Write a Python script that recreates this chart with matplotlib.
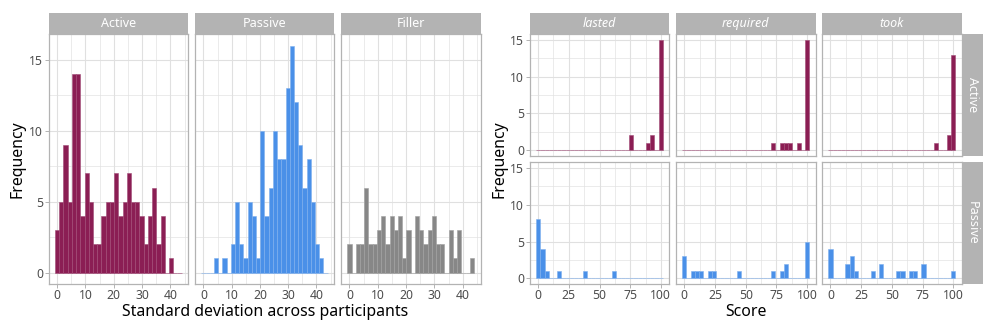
import numpy as np
import matplotlib
matplotlib.use("Agg")
from matplotlib import pyplot as plt

plt.rcParams['font.family'] = ['Noto Sans', 'DejaVu Sans']

# left block: histogram of per-item SD, shared 30 bins
sd_groups = ["Active", "Passive", "Filler"]
sd_active = [3, 5, 9, 5, 14, 14, 4, 7, 5, 2, 2, 4, 5, 5, 7, 4, 5, 7, 5, 5, 4, 2, 4, 6, 2, 4, 0, 1, 0, 0]
sd_passive = [0, 0, 0, 1, 0, 1, 0, 2, 5, 2, 1, 5, 4, 1, 10, 4, 6, 10, 8, 8, 13, 16, 12, 9, 6, 8, 5, 2, 1, 0]
sd_filler = [2, 0, 2, 2, 6, 2, 2, 3, 4, 2, 4, 3, 4, 1, 3, 0, 4, 3, 2, 3, 4, 2, 2, 0, 3, 1, 3, 0, 0, 1]
sd_binwidth = 1.49

# right block: scores per verb (columns) and voice (rows)
verbs = ["lasted", "required", "took"]
voices = ["Active", "Passive"]
lasted_active = [0] * 22 + [2, 0, 0, 0, 1, 2, 0, 15]
required_active = [0] * 21 + [1, 0, 1, 1, 1, 0, 1, 0, 15]
took_active = [0] * 25 + [1, 0, 0, 2, 13]
lasted_passive = [8, 4, 1, 0, 0, 1, 0, 0, 0, 0, 0, 1, 0, 0, 0, 0, 0, 0, 1, 0, 0, 0, 0, 0, 0, 0, 0, 0, 0, 0]
required_passive = [3, 0, 1, 1, 1, 0, 1, 1, 0, 0, 0, 0, 0, 1, 0, 0, 0, 0, 0, 0, 0, 1, 0, 1, 2, 0, 0, 0, 0, 5]
took_passive = [4, 0, 0, 0, 2, 3, 1, 0, 0, 0, 1, 0, 2, 0, 0, 0, 1, 1, 0, 1, 1, 0, 2, 0, 0, 0, 0, 0, 0, 1]
score_binwidth = 100 / 29

colors = {"Active": "#8B1E54", "Passive": "#4A90E8", "Filler": "#878787"}
edges = {"Active": "#A14A76", "Passive": "#7FB0EE", "Filler": "#A0A0A0"}

W, H = 996, 332
fig = plt.figure(figsize=(W / 100, H / 100), dpi=100)

GRID = "#E0E0E0"
BORDER = "#B3B3B3"
TICKC = "#4D4D4D"


def px_axes(x0, y0, x1, y1):
    return fig.add_axes([x0 / W, 1 - y1 / H, (x1 - x0) / W, (y1 - y0) / H])


def style(ax, xmajor, xminor, ymajor, yminor, xlab, ylab):
    ax.set_xticks(xmajor)
    ax.set_xticks(xminor, minor=True)
    ax.set_yticks(ymajor)
    ax.set_yticks(yminor, minor=True)
    ax.grid(which="major", color=GRID, lw=0.8)
    ax.grid(which="minor", color=GRID, lw=0.45)
    ax.set_axisbelow(True)
    for s in ax.spines.values():
        s.set_color(BORDER)
        s.set_linewidth(0.9)
    ax.tick_params(which="major", length=2.7, width=0.7, color=BORDER, labelcolor=TICKC, labelsize=8.8, pad=1.2)
    ax.tick_params(which="minor", length=0)
    if not xlab:
        ax.tick_params(axis="x", which="major", labelbottom=False, length=0)
    if not ylab:
        ax.tick_params(axis="y", which="major", labelleft=False, length=0)


def strip(x0, y0, x1, y1, label, rot=0, italic=False):
    s = px_axes(x0, y0, x1, y1)
    s.set_facecolor(BORDER)
    s.set_xticks([])
    s.set_yticks([])
    for sp in s.spines.values():
        sp.set_visible(False)
    s.text(0.5, 0.5, label, color="white", fontsize=9, ha="center", va="center",
           rotation=rot, style="italic" if italic else "normal", transform=s.transAxes)


def hist(ax, counts, bw, group):
    centers = np.arange(len(counts)) * bw
    ax.bar(centers, counts, width=bw, color=colors[group], edgecolor=edges[group], linewidth=0.4)


# ---- left block
left_x = [(48.7, 188.3), (195, 334.3), (341, 480.7)]
sd_data = [sd_active, sd_passive, sd_filler]
for k, grp in enumerate(sd_groups):
    x0, x1 = left_x[k]
    ax = px_axes(x0, 34.3, x1, 284)
    hist(ax, sd_data[k], sd_binwidth, grp)
    ax.set_xlim(-2.98, 46.3)
    ax.set_ylim(-0.8, 16.8)
    style(ax, [0, 10, 20, 30, 40], [5, 15, 25, 35, 45], [0, 5, 10, 15], [2.5, 7.5, 12.5], True, k == 0)
    strip(x0, 12.7, x1, 34.3, grp)

fig.text(264.7 / W, 1 - 311.5 / H, "Standard deviation across participants", fontsize=11.4, ha="center", va="center")
fig.text(17.5 / W, 1 - 159 / H, "Frequency", fontsize=11.4, rotation=90, ha="center", va="center")

# ---- right block
right_x = [(529.7, 669.3), (675.7, 815.7), (822, 961.7)]
right_y = [(34.3, 155.7), (162.3, 284)]
score_data = {
    ("Active", "lasted"): lasted_active, ("Active", "required"): required_active, ("Active", "took"): took_active,
    ("Passive", "lasted"): lasted_passive, ("Passive", "required"): required_passive, ("Passive", "took"): took_passive,
}
for r, voice in enumerate(voices):
    y0, y1 = right_y[r]
    for c, verb in enumerate(verbs):
        x0, x1 = right_x[c]
        ax = px_axes(x0, y0, x1, y1)
        hist(ax, score_data[(voice, verb)], score_binwidth, voice)
        ax.set_xlim(-6.9, 106.9)
        ax.set_ylim(-0.75, 15.75)
        style(ax, [0, 25, 50, 75, 100], [12.5, 37.5, 62.5, 87.5], [0, 5, 10, 15], [2.5, 7.5, 12.5],
              r == 1, c == 0)
        if r == 0:
            strip(x0, 12.7, x1, 34.3, verb, italic=True)
    strip(961.7, y0, 983.3, y1, voice, rot=-90)

fig.text(745.7 / W, 1 - 311.5 / H, "Score", fontsize=11.4, ha="center", va="center")
fig.text(499.5 / W, 1 - 159 / H, "Frequency", fontsize=11.4, rotation=90, ha="center", va="center")

fig.savefig("out.png", dpi=100)
